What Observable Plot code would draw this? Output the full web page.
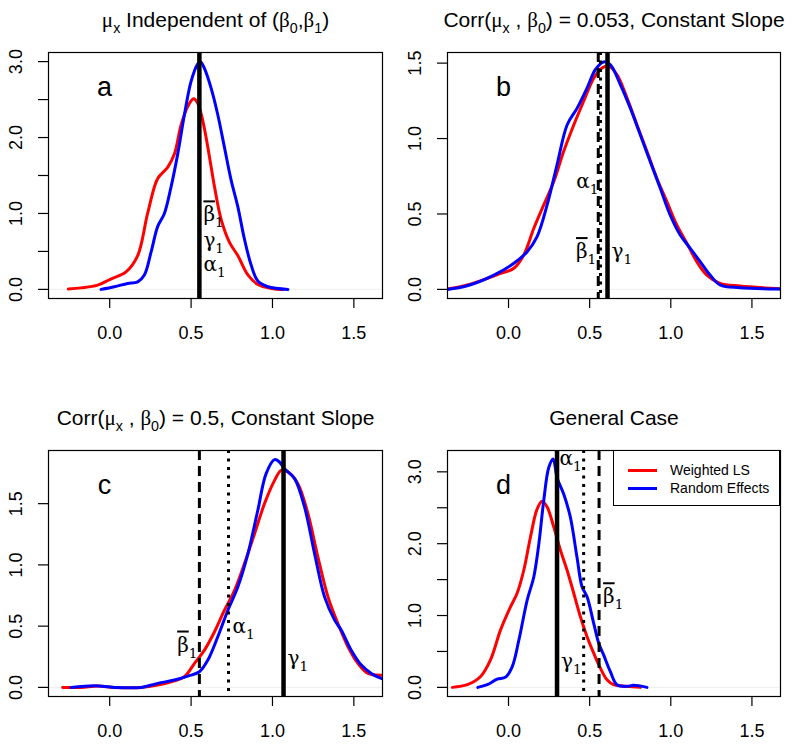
<!DOCTYPE html>
<html><head><meta charset="utf-8">
<script src="https://cdn.jsdelivr.net/npm/d3@7"></script>
<script src="https://cdn.jsdelivr.net/npm/@observablehq/plot@0.6"></script>
<style>
body{margin:0;background:#fff;font-family:"Liberation Sans",Arial,sans-serif}
#wrap{position:relative;width:800px;height:746px;overflow:hidden}
.panel{position:absolute}
.legend{position:absolute;box-sizing:border-box;border:1.2px solid #000;background:#fff;font-family:"Liberation Sans",Arial,sans-serif;font-size:14px}
.legend .sw{position:absolute;height:3px}
.legend .lb{position:absolute;white-space:nowrap;line-height:18px}
</style></head><body><div id="wrap"></div><script>
// ---------- data ----------
const xDomain = [-0.376, 1.676];
const xTicks = [0, 0.5, 1, 1.5];
const seriesNames = ["Weighted LS", "Random Effects"];
const seriesColors = ["#ff0000", "#0000ff"];

// panel a
const aTitle = "μ_x Independent of (β_0,β_1)";
const aWls = [[-0.254,0.004],[-0.176,0.02],[-0.074,0.056],[0,0.13],[0.10,0.23],[0.172,0.445],[0.234,1.01],[0.295,1.46],[0.357,1.61],[0.398,1.785],[0.439,2.17],[0.48,2.41],[0.515,2.51],[0.541,2.45],[0.572,2.22],[0.603,1.87],[0.644,1.35],[0.685,0.92],[0.736,0.62],[0.787,0.445],[0.849,0.19],[0.91,0.065],[0.992,0.013],[1.064,0]];
const aRe = [[-0.053,0],[0.029,0.035],[0.11,0.078],[0.172,0.1],[0.213,0.19],[0.254,0.49],[0.295,0.83],[0.336,1.0],[0.377,1.35],[0.418,1.785],[0.459,2.30],[0.50,2.74],[0.541,2.97],[0.558,3.0],[0.582,2.91],[0.623,2.65],[0.664,2.30],[0.705,1.87],[0.746,1.44],[0.787,1.09],[0.828,0.66],[0.869,0.32],[0.91,0.11],[0.972,0.035],[1.095,0]];
const aLines = [{x:0.551, type:"solid"}];
const aLabels = [{x:0.551,y:0.98,t:"~β_1",side:"right"},{x:0.551,y:0.64,t:"γ_1",side:"right"},{x:0.551,y:0.32,t:"α_1",side:"right"}];
const aYDomain = [-0.12, 3.12];
const aYTicks = [0,0.5,1,1.5,2,2.5,3];
const aYLabels = [0,1,2,3];

// panel b
const bTitle = "Corr(μ_x , β_0) = 0.053, Constant Slope";
const bWls = [[-0.377,0.002],[-0.254,0.029],[-0.131,0.073],[-0.049,0.106],[0.033,0.14],[0.094,0.228],[0.156,0.405],[0.217,0.56],[0.279,0.715],[0.34,0.915],[0.402,1.09],[0.463,1.247],[0.525,1.40],[0.576,1.468],[0.617,1.48],[0.668,1.424],[0.73,1.27],[0.791,1.092],[0.853,0.915],[0.914,0.737],[0.976,0.582],[1.037,0.427],[1.099,0.306],[1.16,0.184],[1.222,0.095],[1.304,0.04],[1.427,0.022],[1.673,0.004]];
const bRe = [[-0.377,0],[-0.254,0.024],[-0.09,0.095],[0.033,0.173],[0.115,0.25],[0.176,0.35],[0.238,0.56],[0.299,0.826],[0.361,1.09],[0.422,1.20],[0.484,1.335],[0.535,1.457],[0.586,1.508],[0.627,1.49],[0.689,1.358],[0.75,1.203],[0.812,1.025],[0.873,0.848],[0.935,0.671],[0.996,0.494],[1.058,0.361],[1.12,0.272],[1.181,0.184],[1.242,0.095],[1.304,0.029],[1.427,0.011],[1.673,0.002]];
const bLines = [{x:0.553,type:"dashed"},{x:0.567,type:"dotted"},{x:0.61,type:"solid"}];
const bLabels = [{x:0.567,y:0.715,t:"α_1",side:"left"},{x:0.553,y:0.25,t:"~β_1",side:"left"},{x:0.61,y:0.25,t:"γ_1",side:"right"}];
const bYDomain = [-0.0604, 1.5704];
const bYTicks = [0,0.5,1,1.5];
const bYLabels = [0,0.5,1,1.5];

// panel c
const cTitle = "Corr(μ_x , β_0) = 0.5, Constant Slope";
const cWls = [[-0.289,0],[-0.176,0],[-0.074,0.011],[0.029,0],[0.193,0],[0.295,0.019],[0.398,0.054],[0.459,0.087],[0.521,0.196],[0.582,0.304],[0.644,0.454],[0.705,0.63],[0.767,0.793],[0.828,1.011],[0.89,1.255],[0.951,1.5],[1.013,1.69],[1.054,1.772],[1.095,1.758],[1.156,1.663],[1.218,1.418],[1.279,1.065],[1.341,0.739],[1.402,0.522],[1.464,0.332],[1.525,0.196],[1.587,0.114],[1.669,0.1]];
const cRe = [[-0.238,0],[-0.094,0.014],[0.029,0],[0.193,0],[0.295,0.033],[0.398,0.06],[0.48,0.092],[0.551,0.128],[0.603,0.223],[0.664,0.413],[0.726,0.63],[0.787,0.82],[0.849,1.09],[0.91,1.446],[0.961,1.745],[1.013,1.859],[1.043,1.84],[1.074,1.785],[1.136,1.704],[1.197,1.473],[1.259,1.09],[1.32,0.739],[1.382,0.549],[1.423,0.467],[1.484,0.304],[1.546,0.182],[1.607,0.114],[1.669,0.073]];
const cLines = [{x:0.551,type:"dashed"},{x:0.73,type:"dotted"},{x:1.068,type:"solid"}];
const cLabels = [{x:0.551,y:0.345,t:"~β_1",side:"left"},{x:0.73,y:0.495,t:"α_1",side:"right"},{x:1.068,y:0.236,t:"γ_1",side:"right"}];
const cYDomain = [-0.0744, 1.934];
const cYTicks = [0,0.5,1,1.5];
const cYLabels = [0,0.5,1,1.5];

// panel d
const dTitle = "General Case";
const dWls = [[-0.346,0],[-0.254,0.037],[-0.172,0.152],[-0.111,0.383],[-0.049,0.8],[0.012,1.12],[0.053,1.31],[0.094,1.63],[0.135,2.09],[0.176,2.48],[0.207,2.59],[0.238,2.51],[0.279,2.23],[0.32,1.91],[0.361,1.63],[0.402,1.31],[0.443,0.983],[0.484,0.706],[0.525,0.476],[0.566,0.268],[0.607,0.106],[0.648,0.037],[0.73,0.014],[0.812,0]];
const dRe = [[-0.189,0],[-0.131,0.037],[-0.07,0.115],[-0.018,0.143],[0.023,0.29],[0.064,0.66],[0.115,1.214],[0.156,1.54],[0.187,2.0],[0.217,2.6],[0.248,3.06],[0.275,3.18],[0.299,2.92],[0.34,2.69],[0.381,2.37],[0.422,1.81],[0.453,1.4],[0.484,1.26],[0.525,0.89],[0.556,0.614],[0.586,0.452],[0.627,0.222],[0.668,0.037],[0.73,0.014],[0.771,0.028],[0.853,0]];
const dLines = [{x:0.299,type:"solid"},{x:0.463,type:"dotted"},{x:0.558,type:"dashed"}];
const dLabels = [{x:0.463,y:3.18,t:"α_1",side:"left"},{x:0.558,y:1.26,t:"~β_1",side:"right"},{x:0.299,y:0.36,t:"γ_1",side:"right"}];
const dYDomain = [-0.127, 3.297];
const dYTicks = [0,0.5,1,1.5,2,2.5,3];
const dYLabels = [0,1,2,3];

// ---------- layout ----------
const SANS = '"Liberation Sans", Arial, sans-serif';
const SERIF = '"Liberation Serif", "Times New Roman", serif';
const LSERIF = '"DejaVu Serif", "Liberation Serif", serif';
const panels = [
  {letter:"a", title:aTitle, wls:aWls, re:aRe, lines:aLines, labels:aLabels, yDomain:aYDomain, yTicks:aYTicks, yLabels:aYLabels, left:0, top:0, h:373, mt:52, mb:75, ml:48, mr:18},
  {letter:"b", title:bTitle, wls:bWls, re:bRe, lines:bLines, labels:bLabels, yDomain:bYDomain, yTicks:bYTicks, yLabels:bYLabels, left:400, top:0, h:373, mt:52, mb:75, ml:47, mr:20},
  {letter:"c", title:cTitle, wls:cWls, re:cRe, lines:cLines, labels:cLabels, yDomain:cYDomain, yTicks:cYTicks, yLabels:cYLabels, left:0, top:373, h:373, mt:77, mb:50, ml:48, mr:18},
  {letter:"d", title:dTitle, wls:dWls, re:dRe, lines:dLines, labels:dLabels, yDomain:dYDomain, yTicks:dYTicks, yLabels:dYLabels, left:400, top:373, h:373, mt:77, mb:50, ml:47, mr:20, legend:true}
];

const fmt1 = d3.format(".1f");
const px = d => d[0], py = d => d[1];

function makePanel(p) {
  const marks = [
    Plot.ruleY([0], {stroke:"#eeeeee", strokeWidth:1}),
    Plot.line(p.wls, {x:px, y:py, stroke:seriesColors[0], strokeWidth:3, curve:"catmull-rom", clip:true}),
    Plot.line(p.re, {x:px, y:py, stroke:seriesColors[1], strokeWidth:3, curve:"catmull-rom", clip:true}),
    Plot.ruleX(p.lines.filter(d => d.type === "dotted"), {x:"x", stroke:"black", strokeWidth:3, strokeDasharray:"3,5.5"}),
    Plot.ruleX(p.lines.filter(d => d.type === "dashed"), {x:"x", stroke:"black", strokeWidth:3, strokeDasharray:"10,6"}),
    Plot.ruleX(p.lines.filter(d => d.type === "solid"), {x:"x", stroke:"black", strokeWidth:4.5}),
    Plot.text(p.labels.filter(d => d.side === "right"), {x:"x", y:"y", text:"t", textAnchor:"start", dx:4, fontSize:20, fontFamily:LSERIF, lineAnchor:"middle", className:"glabel"}),
    Plot.text(p.labels.filter(d => d.side === "left"), {x:"x", y:"y", text:"t", textAnchor:"end", dx:-2, fontSize:20, fontFamily:LSERIF, lineAnchor:"middle", className:"glabel"}),
    Plot.text([p.letter], {frameAnchor:"top-left", text:d => d, dx:56, dy:43, fontSize:27, textAnchor:"middle", lineAnchor:"bottom"}),
    Plot.text([p.title], {frameAnchor:"top", text:d => d, dy:-25.5, fontSize:21, lineAnchor:"bottom"}),
    Plot.axisX({ticks:xTicks, tickSize:10, tickPadding:17.5, fontSize:18, tickFormat:fmt1, label:null, strokeWidth:1.2}),
    Plot.axisY({ticks:p.yTicks, tickSize:10, tickFormat:() => "", label:null, strokeWidth:1.2}),
    Plot.text(p.yLabels, {y:d => d, frameAnchor:"left", dx:-32, rotate:-90, text:d => fmt1(d), fontSize:18, lineAnchor:"middle", textAnchor:"middle"}),
    Plot.frame({stroke:"black", strokeWidth:1.2})
  ];
  return Plot.plot({
    width:400, height:p.h,
    marginTop:p.mt, marginBottom:p.mb, marginLeft:p.ml, marginRight:p.mr,
    x:{domain:xDomain}, y:{domain:p.yDomain},
    style:{fontFamily:SANS, background:"white", color:"black", overflow:"visible"},
    marks
  });
}

// convert mini markup: "_c" subscript, "~c" overlined, greek -> serif
function richify(svg) {
  const greek = /[α-ωΑ-Ω]/;
  svg.querySelectorAll("text").forEach(t => {
    const s = t.textContent;
    if (!/[_~]/.test(s) && !greek.test(s)) return;
    const fs = parseFloat(getComputedStyle(t).fontSize) || 16;
    const isLabel = !!t.closest(".glabel");
    const items = [];
    for (let i = 0; i < s.length; i++) {
      const c = s[i];
      if (c === "_") items.push({c:s[++i], sub:true});
      else if (c === "~") items.push({c:s[++i], bar:true});
      else items.push({c});
    }
    const groups = [];
    for (const it of items) {
      const g = greek.test(it.c);
      const last = groups[groups.length - 1];
      if (last && !!last.sub === !!it.sub && !!last.bar === !!it.bar && last.g === g) last.s += it.c;
      else groups.push({s:it.c, sub:it.sub, bar:it.bar, g});
    }
    t.textContent = "";
    const NS = "http://www.w3.org/2000/svg";
    let off = 0;
    const shift = 0.3 * fs;
    for (const g of groups) {
      const ts = document.createElementNS(NS, "tspan");
      ts.textContent = g.s;
      const target = g.sub ? shift : 0;
      if (target !== off) { ts.setAttribute("dy", target - off); off = target; }
      if (g.sub) ts.setAttribute("font-size", (0.68 * fs) + "px");
      if (g.g && !isLabel) ts.setAttribute("font-family", SERIF);
      if (g.bar) ts.setAttribute("style", "text-decoration:overline");
      t.appendChild(ts);
    }
  });
}

const wrap = document.getElementById("wrap");
for (const p of panels) {
  const svg = makePanel(p);
  svg.classList.add("panel");
  svg.style.left = p.left + "px";
  svg.style.top = p.top + "px";
  wrap.appendChild(svg);
  richify(svg);
  if (p.legend) {
    const lg = document.createElement("div");
    lg.className = "legend";
    const L = p.left + 400 - p.mr - 167, T = p.top + p.mt;
    Object.assign(lg.style, {left:L + "px", top:T + "px", width:"167px", height:"56px"});
    seriesNames.forEach((name, i) => {
      const y = 10 + i * 18;
      const sw = document.createElement("div");
      sw.className = "sw";
      Object.assign(sw.style, {left:"14px", width:"29px", top:(y + 8) + "px", background:seriesColors[i]});
      const lb = document.createElement("div");
      lb.className = "lb";
      lb.textContent = name;
      Object.assign(lb.style, {left:"56px", top:y + "px"});
      lg.appendChild(sw); lg.appendChild(lb);
    });
    wrap.appendChild(lg);
  }
}
</script></body></html>
